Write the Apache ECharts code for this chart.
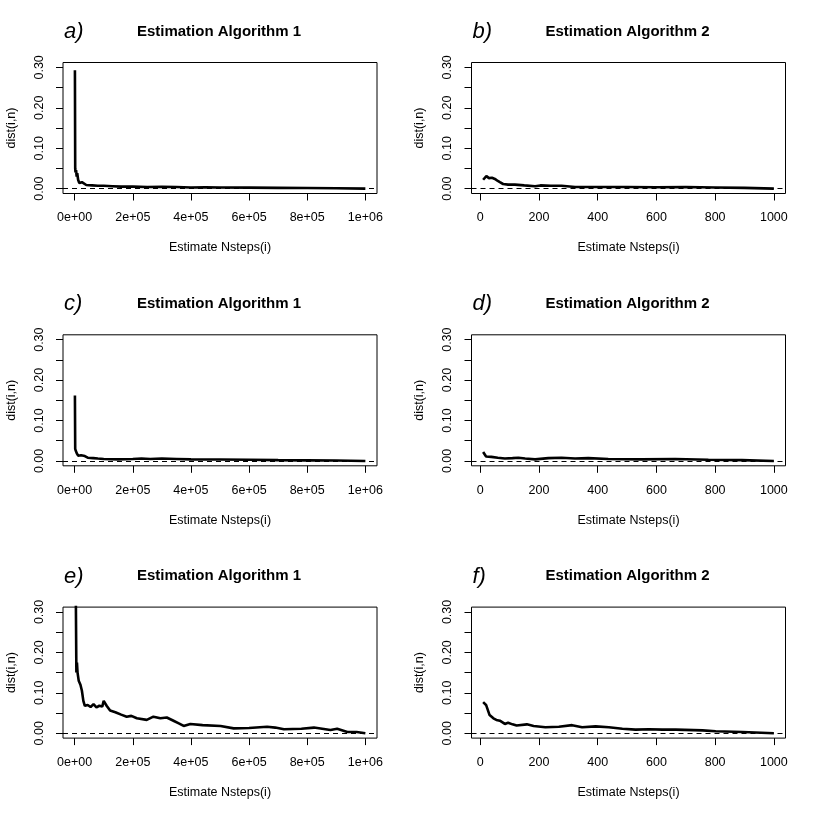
<!DOCTYPE html>
<html lang="en">
<head>
  <meta charset="UTF-8">
  <title>dist(i,n)</title>
  <style>
    body{
      margin: 0;
    }
    .chart{
      width: 817px;
      height: 817px;
      background: white;
    }
  </style>
</head>
<body>
<div class="chart"></div>
<script src="https://cdn.jsdelivr.net/npm/echarts@6/dist/echarts.min.js"></script>
<script>
  // panel data: [Nsteps(i), dist(i,n)]
  const panelA = [[1000,0.293],[2000,0.05],[3000,0.04],[5000,0.046],[7000,0.03],[9000,0.038],[12000,0.022],[16000,0.014],[20000,0.017],[25000,0.016],[30000,0.012],[40000,0.009],[60000,0.008],[80000,0.007],[100000,0.007],[130000,0.006],[160000,0.005],[200000,0.005],[250000,0.004],[300000,0.0045],[350000,0.004],[400000,0.003],[450000,0.0035],[500000,0.003],[600000,0.0025],[700000,0.002],[800000,0.0015],[900000,0.001],[1000000,0]];
  const panelB = [[10,0.022],[21,0.031],[30,0.026],[40,0.027],[50,0.024],[60,0.019],[67,0.016],[78,0.0115],[95,0.010],[118,0.010],[150,0.008],[187,0.006],[205,0.008],[240,0.007],[277,0.007],[323,0.004],[400,0.004],[500,0.004],[600,0.0035],[700,0.004],[800,0.003],[900,0.002],[1000,0]];
  const panelC = [[1000,0.162],[2000,0.03],[4000,0.025],[8000,0.018],[12000,0.013],[16000,0.011],[22000,0.014],[28000,0.01],[35000,0.012],[45000,0.008],[64000,0.007],[80000,0.006],[100000,0.005],[150000,0.004],[200000,0.005],[230000,0.006],[260000,0.005],[300000,0.006],[350000,0.005],[400000,0.004],[500000,0.0035],[600000,0.003],[700000,0.002],[800000,0.0015],[900000,0.001],[1000000,0]];
  const panelD = [[10,0.022],[20,0.011],[38,0.010],[60,0.008],[84,0.006],[110,0.007],[130,0.008],[153,0.006],[187,0.004],[232,0.007],[277,0.008],[323,0.006],[368,0.007],[436,0.005],[550,0.004],[664,0.005],[777,0.003],[891,0.002],[1000,0]];
  const panelE = [[1000,0.6],[4000,0.35],[6000,0.15],[8000,0.175],[10000,0.15],[14000,0.13],[20000,0.12],[25000,0.105],[30000,0.08],[35000,0.068],[45000,0.07],[55000,0.065],[65000,0.072],[75000,0.064],[85000,0.068],[95000,0.066],[100000,0.08],[110000,0.068],[122000,0.056],[140000,0.052],[160000,0.046],[179000,0.041],[195000,0.043],[214000,0.037],[248000,0.033],[271000,0.041],[295000,0.037],[317000,0.039],[340000,0.031],[360000,0.024],[375000,0.018],[398000,0.023],[440000,0.020],[502000,0.018],[547000,0.012],[600000,0.013],[662000,0.016],[690000,0.014],[720000,0.010],[780000,0.011],[823000,0.014],[880000,0.008],[903000,0.011],[938000,0.003],[970000,0.003],[1000000,0]];
  const panelF = [[10,0.077],[20,0.070],[32,0.045],[45,0.037],[55,0.033],[67,0.031],[84,0.023],[95,0.026],[110,0.022],[124,0.019],[159,0.022],[182,0.018],[222,0.015],[268,0.016],[313,0.020],[347,0.015],[393,0.017],[438,0.015],[484,0.011],[529,0.009],[575,0.010],[620,0.009],[666,0.009],[757,0.007],[802,0.005],[893,0.003],[1000,0]];

  const letters = ['a)', 'b)', 'c)', 'd)', 'e)', 'f)'];
  const titles = ['Estimation Algorithm 1', 'Estimation Algorithm 2'];
  const series1 = [panelA, panelC, panelE];
  const series2 = [panelB, panelD, panelF];

  const ticks1 = [0, 200000, 400000, 600000, 800000, 1000000];
  const ticks2 = [0, 200, 400, 600, 800, 1000];
  const yTicks = [0, 0.05, 0.1, 0.15, 0.2, 0.25, 0.3];
  const yLabels = [0, 0.1, 0.2, 0.3];

  const font = '"Liberation Sans", Arial, sans-serif';

  // R style 2e+05
  function sci(v){
    if (v === 0) return '0e+00';
    const exp = Math.floor(Math.log10(v));
    const m = Math.round(v / Math.pow(10, exp));
    return m + 'e+' + String(exp).padStart(2, '0');
  }

  const container = document.querySelector('.chart');
  const instance = echarts.init(container);

  const grid = [], xAxis = [], yAxis = [], series = [], title = [];
  const pw = 408.5, ph = 272.3;

  for (let r = 0; r < 3; r++){
    for (let c = 0; c < 2; c++){
      const k = r * 2 + c;
      const ox = c * pw, oy = r * ph;
      grid.push({
        left: ox + 63, top: oy + 62.5, width: 314, height: 131,
        show: true, borderColor: '#000', borderWidth: 1, backgroundColor: 'transparent'
      });
      const ticks = c === 0 ? ticks1 : ticks2;
      xAxis.push({
        type: 'value', gridIndex: k,
        min: c === 0 ? -40000 : -29.6,
        max: c === 0 ? 1040000 : 1039.6,
        name: 'Estimate Nsteps(i)', nameLocation: 'middle', nameGap: 48,
        nameTextStyle: {fontFamily: font, fontSize: 12.5, color: '#000'},
        axisLine: {show: false, onZero: false},
        axisTick: {show: true, length: 7, customValues: ticks, lineStyle: {color: '#000'}},
        axisLabel: {
          customValues: ticks, margin: 18, fontFamily: font, fontSize: 12.5, color: '#000',
          formatter: c === 0 ? sci : (v) => String(v)
        },
        splitLine: {show: false}
      });
      yAxis.push({
        type: 'value', gridIndex: k, min: -0.012, max: 0.312,
        name: 'dist(i,n)', nameLocation: 'middle', nameGap: 45, nameRotate: 90,
        nameTextStyle: {fontFamily: font, fontSize: 12.5, color: '#000'},
        axisLine: {show: false, onZero: false},
        axisTick: {show: true, length: 7, customValues: yTicks, lineStyle: {color: '#000'}},
        axisLabel: {
          customValues: yLabels, rotate: 90, margin: 17, fontFamily: font, fontSize: 12.5, color: '#000',
          formatter: (v) => v.toFixed(2)
        },
        splitLine: {show: false}
      });
      series.push({
        type: 'line', xAxisIndex: k, yAxisIndex: k,
        data: c === 0 ? series1[r] : series2[r],
        showSymbol: false, symbol: 'none', clip: true,
        lineStyle: {color: '#000', width: 2.6},
        silent: true,
        markLine: {
          silent: true, symbol: 'none', label: {show: false},
          lineStyle: {color: '#000', type: [5, 4], width: 1.2},
          data: [{yAxis: 0}]
        }
      });
      title.push({
        text: titles[c], left: ox + 214, top: oy + 19, textAlign: 'center',
        textStyle: {fontFamily: font, fontSize: 15, fontWeight: 'bold', color: '#000'}
      });
      title.push({
        text: letters[k], left: ox + 59, top: oy + 16,
        textStyle: {fontFamily: font, fontSize: 22, fontStyle: 'italic', fontWeight: 'normal', color: '#000'}
      });
    }
  }

  const option = {
    backgroundColor: '#fff',
    animation: false,
    title: title,
    grid: grid,
    xAxis: xAxis,
    yAxis: yAxis,
    series: series
  };
  instance.setOption(option);
</script>
</body>
</html>
